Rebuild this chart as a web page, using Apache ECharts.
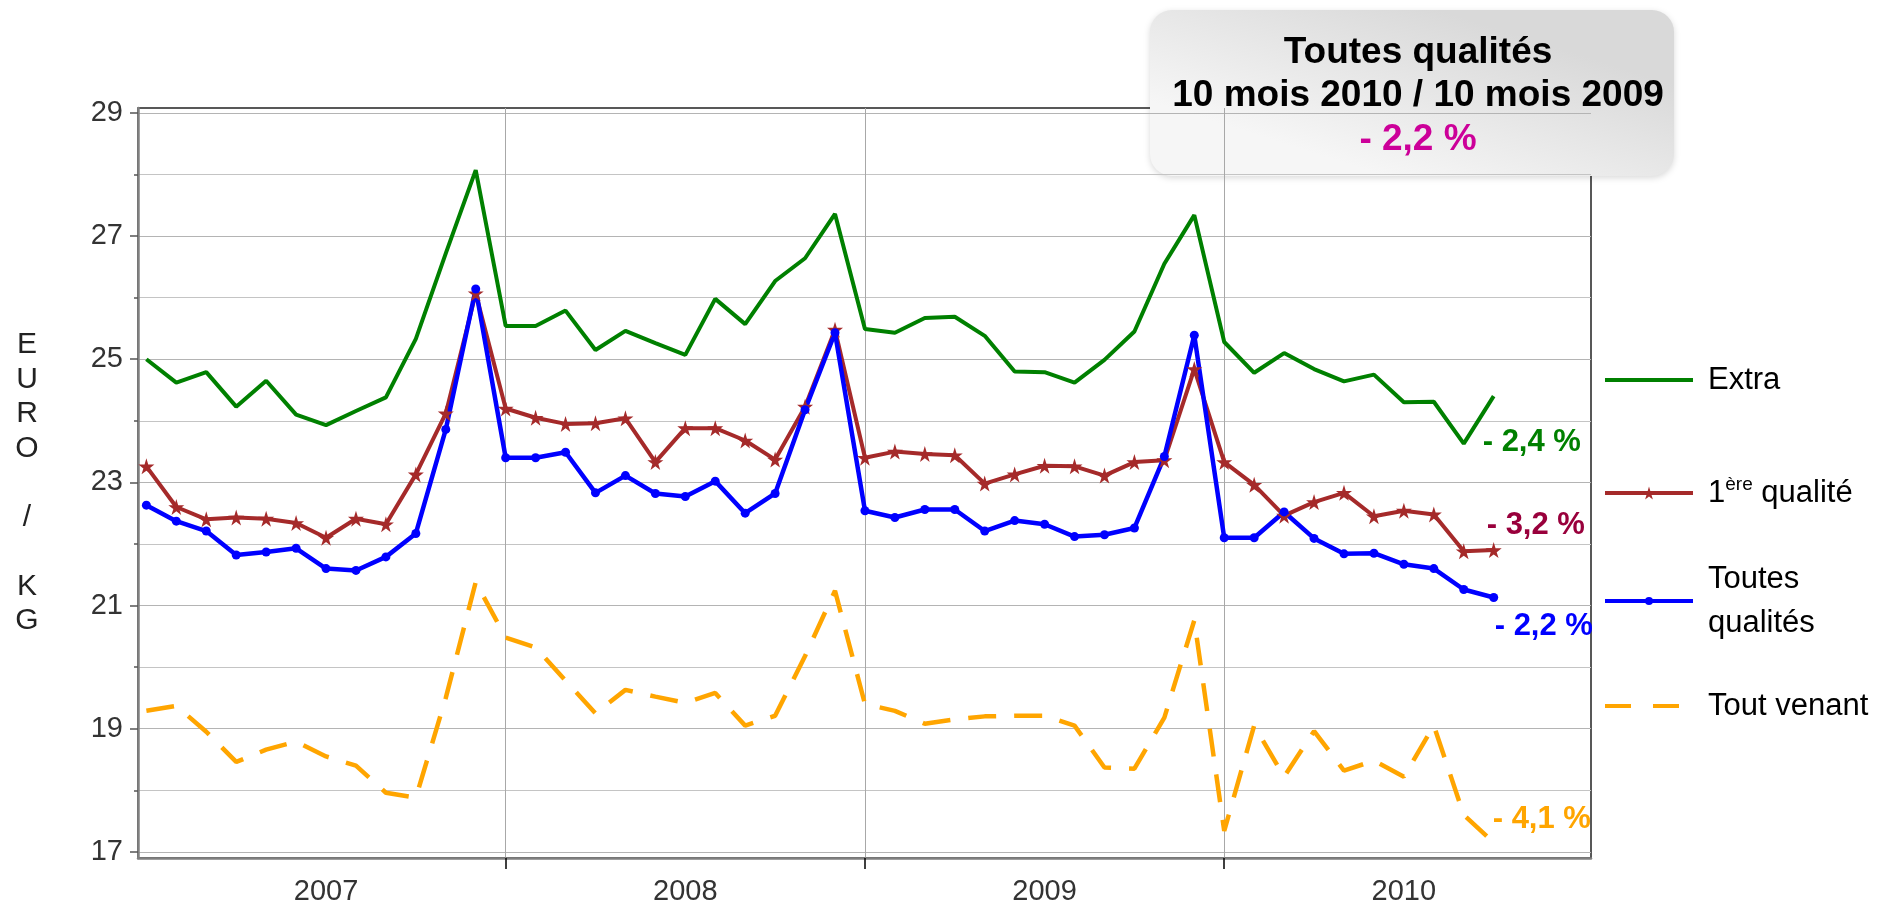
<!DOCTYPE html>
<html><head><meta charset="utf-8">
<script src="https://cdn.jsdelivr.net/npm/echarts@6/dist/echarts.min.js"></script>
<style>html,body{margin:0;padding:0;background:#fff}#c{width:1879px;height:908px}</style>
</head><body><div id="c"></div>
<script>
// ---- data (month index 0 = Jan 2007) ----
const years = ['2007', '2008', '2009', '2010'];
const yearBoundaries = [12, 24, 36];
const yearLabelPos = [6, 18, 30, 42];
const yMajorTicks = [17, 19, 21, 23, 25, 27, 29];
const yMinorTicks = [18, 20, 22, 24, 26, 28];

const extra = [
  25.00, 24.62, 24.79, 24.23, 24.65, 24.10, 23.93, 24.16, 24.38, 25.33, 26.72, 28.07,
  25.54, 25.54, 25.79, 25.15, 25.46, 25.26, 25.07, 25.98, 25.57, 26.27, 26.64, 27.36,
  25.49, 25.43, 25.67, 25.69, 25.38, 24.80, 24.79, 24.62, 24.99, 25.45, 26.55, 27.34,
  25.28, 24.78, 25.10, 24.84, 24.64, 24.75, 24.30, 24.31, 23.63, 24.40
];
const premiere = [
  23.26, 22.60, 22.40, 22.43, 22.41, 22.34, 22.10, 22.41, 22.32, 23.13, 24.12, 26.07,
  24.20, 24.05, 23.95, 23.96, 24.04, 23.33, 23.88, 23.88, 23.68, 23.37, 24.23, 25.48,
  23.40, 23.50, 23.46, 23.44, 22.98, 23.13, 23.27, 23.26, 23.11, 23.33, 23.36, 24.84,
  23.33, 22.96, 22.46, 22.68, 22.83, 22.45, 22.54, 22.48, 21.88, 21.90
];
const toutes = [
  22.63, 22.37, 22.21, 21.82, 21.87, 21.93, 21.60, 21.57, 21.79, 22.17, 23.86, 26.14,
  23.40, 23.40, 23.49, 22.83, 23.11, 22.82, 22.77, 23.02, 22.50, 22.82, 24.18, 25.43,
  22.54, 22.43, 22.56, 22.56, 22.21, 22.38, 22.32, 22.12, 22.15, 22.26, 23.42, 25.39,
  22.10, 22.10, 22.52, 22.09, 21.84, 21.85, 21.67, 21.60, 21.26, 21.13
];
const toutVenant = [
  19.29, 19.37, 18.95, 18.46, 18.66, 18.79, 18.55, 18.40, 17.96, 17.88, 19.50, 21.38,
  20.48, 20.32, 19.78, 19.25, 19.63, 19.52, 19.42, 19.58, 19.05, 19.21, 20.18, 21.24,
  19.40, 19.29, 19.08, 19.15, 19.20, 19.21, 19.21, 19.05, 18.37, 18.35, 19.18, 20.76,
  17.34, 19.05, 18.22, 18.96, 18.32, 18.48, 18.22, 19.05, 17.60, 17.15
];
const seriesNames = ['Extra', '1ère qualité', 'Toutes\nqualités', 'Tout venant'];
const endNotes = ['- 2,4 %', '- 3,2 %', '- 2,2 %', '- 4,1 %'];
const titleLines = ['Toutes qualités', '10 mois 2010 / 10 mois 2009', '- 2,2 %'];

// ---- styles ----
const tickFont = "'Liberation Sans', Arial, sans-serif";
const mainFont = "'Liberation Sans', Arial, sans-serif";
const colors = ['#008000', '#A52A2A', '#0000FF', '#FFA500'];
const noteColors = ['#008000', '#99003C', '#0000FF', '#FFA500'];
const lineWidths = [4, 4, 4.5, 4.5];
const star = 'path://M50,0 L61,35 L98,35 L68,57 L79,91 L50,70 L21,91 L32,57 L2,35 L39,35 Z';
const noteOffsets = [[-19, 46], [-15, -25], [-7, 29], [-9, -23]];
const dashPattern = [28, 18];

const pairs = arr => arr.map((v, i) => [i, v]);
const datasets = [extra, premiere, toutes, toutVenant];

function mkSeries(idx, extraOpts) {
  return Object.assign({
    name: seriesNames[idx],
    type: 'line',
    data: pairs(datasets[idx]),
    symbol: 'none',
    color: colors[idx],
    lineStyle: { color: colors[idx], width: lineWidths[idx] },
    itemStyle: { color: colors[idx] },
    animation: false,
    emphasis: { disabled: true },
    endLabel: {
      show: true,
      formatter: endNotes[idx],
      offset: noteOffsets[idx],
      color: noteColors[idx],
      fontFamily: mainFont,
      fontWeight: 'bold',
      fontSize: 31
    }
  }, extraOpts || {});
}

const legendTops = [362, 475, 557, 688];
const legendLH = [36, 36, 44, 36];
const legendItemH = [16, 16, 10, 16];
const legendSymbolOpacity = [0, 1, 1, 0];
const legendDash = ['solid', 'solid', 'solid', [26, 22]];

const chart = echarts.init(document.getElementById('c'), null, { renderer: 'canvas' });
chart.setOption({
  animation: false,
  backgroundColor: '#fff',
  grid: {
    left: 138, right: 288, top: 108, bottom: 50,
    show: true, borderColor: '#222', borderWidth: 1.5, backgroundColor: 'transparent',
    outerBoundsMode: 'none'
  },
  xAxis: {
    type: 'value', min: -0.28, max: 48.25,
    axisLine: { show: true, onZero: false, lineStyle: { color: '#808080', width: 2.5 } },
    axisTick: { show: true, customValues: yearBoundaries, length: 11, lineStyle: { color: '#000', width: 1.5 } },
    axisLabel: {
      customValues: yearLabelPos,
      formatter: v => years[yearLabelPos.indexOf(v)],
      fontFamily: tickFont, fontSize: 29, color: '#333', margin: 19
    },
    splitLine: { show: true, lineStyle: { color: '#a8a8a8', width: 1 } }
  },
  yAxis: [{
    type: 'value', min: 16.90, max: 29.08,
    name: 'E\nU\nR\nO\n \n/\n \nK\nG',
    nameLocation: 'middle', nameRotate: 0, nameGap: 111,
    nameTextStyle: { fontFamily: tickFont, fontSize: 30, lineHeight: 34.5, color: '#222', align: 'center', verticalAlign: 'middle', padding: [0, 0, 10, 0] },
    axisLine: { show: true, onZero: false, lineStyle: { color: '#808080', width: 2.5 } },
    axisTick: { show: true, customValues: yMajorTicks, length: 8, lineStyle: { color: '#555', width: 1.5 } },
    axisLabel: { customValues: yMajorTicks, fontFamily: tickFont, fontSize: 29, color: '#333', margin: 15 },
    splitLine: { show: true, lineStyle: { color: '#b4b4b4', width: 1.2 } }
  }, {
    type: 'value', min: 16.90, max: 29.08, position: 'left',
    axisLine: { show: false, onZero: false },
    axisTick: { show: true, customValues: yMinorTicks, length: 4, lineStyle: { color: '#555', width: 1.5 } },
    axisLabel: { show: false },
    splitLine: { show: true, lineStyle: { color: '#c4c4c4', width: 1.2 } }
  }],
  legend: seriesNames.map((n, i) => ({
    data: [n],
    orient: 'vertical',
    left: 1603, top: legendTops[i],
    padding: 0,
    itemWidth: 88, itemHeight: legendItemH[i],
    selectedMode: false,
    itemStyle: { opacity: legendSymbolOpacity[i] },
    lineStyle: { width: 4, type: legendDash[i] },
    formatter: name => name === '1ère qualité' ? '1{sup|ère} qualité' : name,
    textStyle: {
      fontFamily: mainFont, fontSize: 31, color: '#000', lineHeight: legendLH[i], padding: [0, 0, 0, 10],
      rich: { sup: { fontFamily: mainFont, fontSize: 19, lineHeight: 19, verticalAlign: 'top', color: '#000' } }
    }
  })),
  series: [
    mkSeries(0),
    mkSeries(3, { lineStyle: { color: colors[3], width: lineWidths[3], type: dashPattern } }),
    mkSeries(1, { symbol: star, symbolSize: 16, showSymbol: true }),
    mkSeries(2, { symbol: 'circle', symbolSize: 9, showSymbol: true })
  ],
  graphic: [{
    type: 'group', left: 1150, top: 10, z: 100,
    children: [{
      type: 'rect',
      shape: { x: 0, y: 0, width: 524, height: 166, r: 22 },
      style: {
        fill: new echarts.graphic.LinearGradient(0.55, 0, 0.45, 1, [
          { offset: 0, color: '#d9d9d9' }, { offset: 1, color: '#f6f6f6' }
        ]),
        shadowBlur: 6, shadowColor: 'rgba(0,0,0,0.15)', shadowOffsetY: 2
      }
    }, {
      type: 'text', x: 268, y: 43,
      style: { text: titleLines[0], font: "bold 37px 'Liberation Sans', Arial", fill: '#000', align: 'center', verticalAlign: 'middle' }
    }, {
      type: 'text', x: 268, y: 86,
      style: { text: titleLines[1], font: "bold 37px 'Liberation Sans', Arial", fill: '#000', align: 'center', verticalAlign: 'middle' }
    }, {
      type: 'text', x: 268, y: 130,
      style: { text: titleLines[2], font: "bold 37px 'Liberation Sans', Arial", fill: '#CC0099', align: 'center', verticalAlign: 'middle' }
    }]
  }]
});
</script>
</body></html>
